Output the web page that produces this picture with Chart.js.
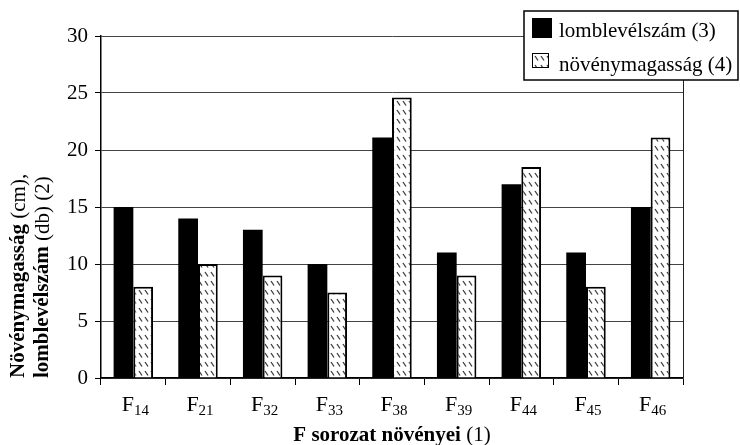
<!DOCTYPE html>
<html><head><meta charset="utf-8">
<script src="https://cdn.jsdelivr.net/npm/chart.js@4/dist/chart.umd.min.js"></script>
<style>html,body{margin:0;padding:0;background:#fff}</style>
</head><body>
<canvas id="c" width="740" height="445"></canvas>
<script>
const categoryPrefix = 'F';
const categorySubs = ['14','21','32','33','38','39','44','45','46'];
const leafCount = [15, 14, 13, 10, 21.1, 11, 17, 11, 15];
const plantHeight = [8, 10, 9, 7.5, 24.6, 9, 18.5, 8, 21.1];
const seriesNames = ['lomblevélszám (3)', 'növénymagasság (4)'];
const yTitleLines = [['Növénymagasság', ' (cm),'], ['lomblevélszám', ' (db) (2)']];
const xTitleParts = ['F sorozat növényei', ' (1)'];

const SERIF = '"Liberation Serif", "Times New Roman", serif';
const FS = 21;

function makeHatch() {
  const t = document.createElement('canvas');
  t.width = 6; t.height = 9;
  const g = t.getContext('2d');
  g.fillStyle = '#fff'; g.fillRect(0, 0, 6, 9);
  g.strokeStyle = '#3a3a3a'; g.lineWidth = 1.3;
  g.beginPath(); g.moveTo(1, 2); g.lineTo(4, 6.5); g.stroke();
  return document.getElementById('c').getContext('2d').createPattern(t, 'repeat');
}
const hatch = makeHatch();

const decor = {
  id: 'decor',
  afterDraw(chart) {
    const ctx = chart.ctx, a = chart.chartArea, xs = chart.scales.x;
    ctx.save();
    ctx.strokeStyle = '#222'; ctx.lineWidth = 1;
    ctx.beginPath(); ctx.moveTo(a.right + 0.5, a.top); ctx.lineTo(a.right + 0.5, a.bottom); ctx.stroke();
    ctx.fillStyle = '#000'; ctx.textBaseline = 'alphabetic';
    categorySubs.forEach((s, i) => {
      const cx = xs.getPixelForValue(i);
      ctx.font = '22px ' + SERIF;
      const wF = ctx.measureText(categoryPrefix).width;
      ctx.font = '15px ' + SERIF;
      const wS = ctx.measureText(s).width;
      const x0 = cx - (wF + wS) / 2 + 2;
      ctx.font = '22px ' + SERIF; ctx.textAlign = 'left';
      ctx.fillText(categoryPrefix, x0, 411);
      ctx.font = '15px ' + SERIF;
      ctx.fillText(s, x0 + wF, 415);
    });
    ctx.font = 'bold ' + FS + 'px ' + SERIF;
    const w1 = ctx.measureText(xTitleParts[0]).width;
    ctx.font = FS + 'px ' + SERIF;
    const w2 = ctx.measureText(xTitleParts[1]).width;
    let tx = (a.left + a.right) / 2 - (w1 + w2) / 2;
    ctx.font = 'bold ' + FS + 'px ' + SERIF; ctx.fillText(xTitleParts[0], tx, 441);
    ctx.font = FS + 'px ' + SERIF; ctx.fillText(xTitleParts[1], tx + w1, 441);
    ctx.save();
    ctx.rotate(-Math.PI / 2);
    ctx.textBaseline = 'middle';
    const yx = [19, 43];
    yTitleLines.forEach((parts, li) => {
      ctx.font = 'bold ' + FS + 'px ' + SERIF;
      const b = ctx.measureText(parts[0]).width;
      ctx.fillText(parts[0], -378, yx[li]);
      ctx.font = FS + 'px ' + SERIF;
      ctx.fillText(parts[1], -378 + b, yx[li]);
    });
    ctx.restore();
    const L = 524, T = 11, R = 738, B = 80;
    ctx.fillStyle = '#fff'; ctx.fillRect(L, T, R - L, B - T);
    ctx.strokeStyle = '#000'; ctx.lineWidth = 1.5;
    ctx.strokeRect(L, T, R - L, B - T);
    ctx.fillStyle = '#000'; ctx.fillRect(532, 18, 20, 20);
    ctx.fillStyle = hatch; ctx.fillRect(532, 53, 17, 15);
    ctx.strokeStyle = '#000'; ctx.lineWidth = 1; ctx.strokeRect(532.5, 53.5, 16, 14);
    ctx.fillStyle = '#000'; ctx.font = FS + 'px ' + SERIF; ctx.textBaseline = 'alphabetic'; ctx.textAlign = 'left';
    ctx.fillText(seriesNames[0], 559, 37);
    ctx.fillText(seriesNames[1], 559, 71);
    ctx.restore();
  }
};

new Chart(document.getElementById('c'), {
  type: 'bar',
  data: {
    labels: categorySubs.map(s => categoryPrefix + s),
    datasets: [
      { label: seriesNames[0], data: leafCount, backgroundColor: '#000', borderColor: '#000', borderWidth: 0 },
      { label: seriesNames[1], data: plantHeight, backgroundColor: hatch, borderColor: '#000', borderWidth: 2 }
    ]
  },
  options: {
    responsive: false, animation: false, devicePixelRatio: 1,
    layout: { padding: { left: 0, top: 36, right: 57, bottom: 0 } },
    datasets: { bar: { categoryPercentage: 0.61, barPercentage: 1.0 } },
    plugins: { legend: { display: false }, tooltip: { enabled: false } },
    scales: {
      x: {
        ticks: { display: false },
        grid: { display: true, drawOnChartArea: false, drawTicks: true, tickLength: 7, tickColor: '#000', offset: true },
        border: { color: '#000', width: 1.5 },
        afterFit: s => { s.height = 67; }
      },
      y: {
        min: 0, max: 30,
        ticks: { stepSize: 5, color: '#000', padding: 7, font: { family: SERIF, size: FS } },
        grid: { color: '#444', lineWidth: 1, tickColor: '#000', tickLength: 6 },
        border: { color: '#000', width: 1.5 },
        afterFit: s => { s.width = 101; }
      }
    }
  },
  plugins: [decor]
});
</script>
</body></html>
